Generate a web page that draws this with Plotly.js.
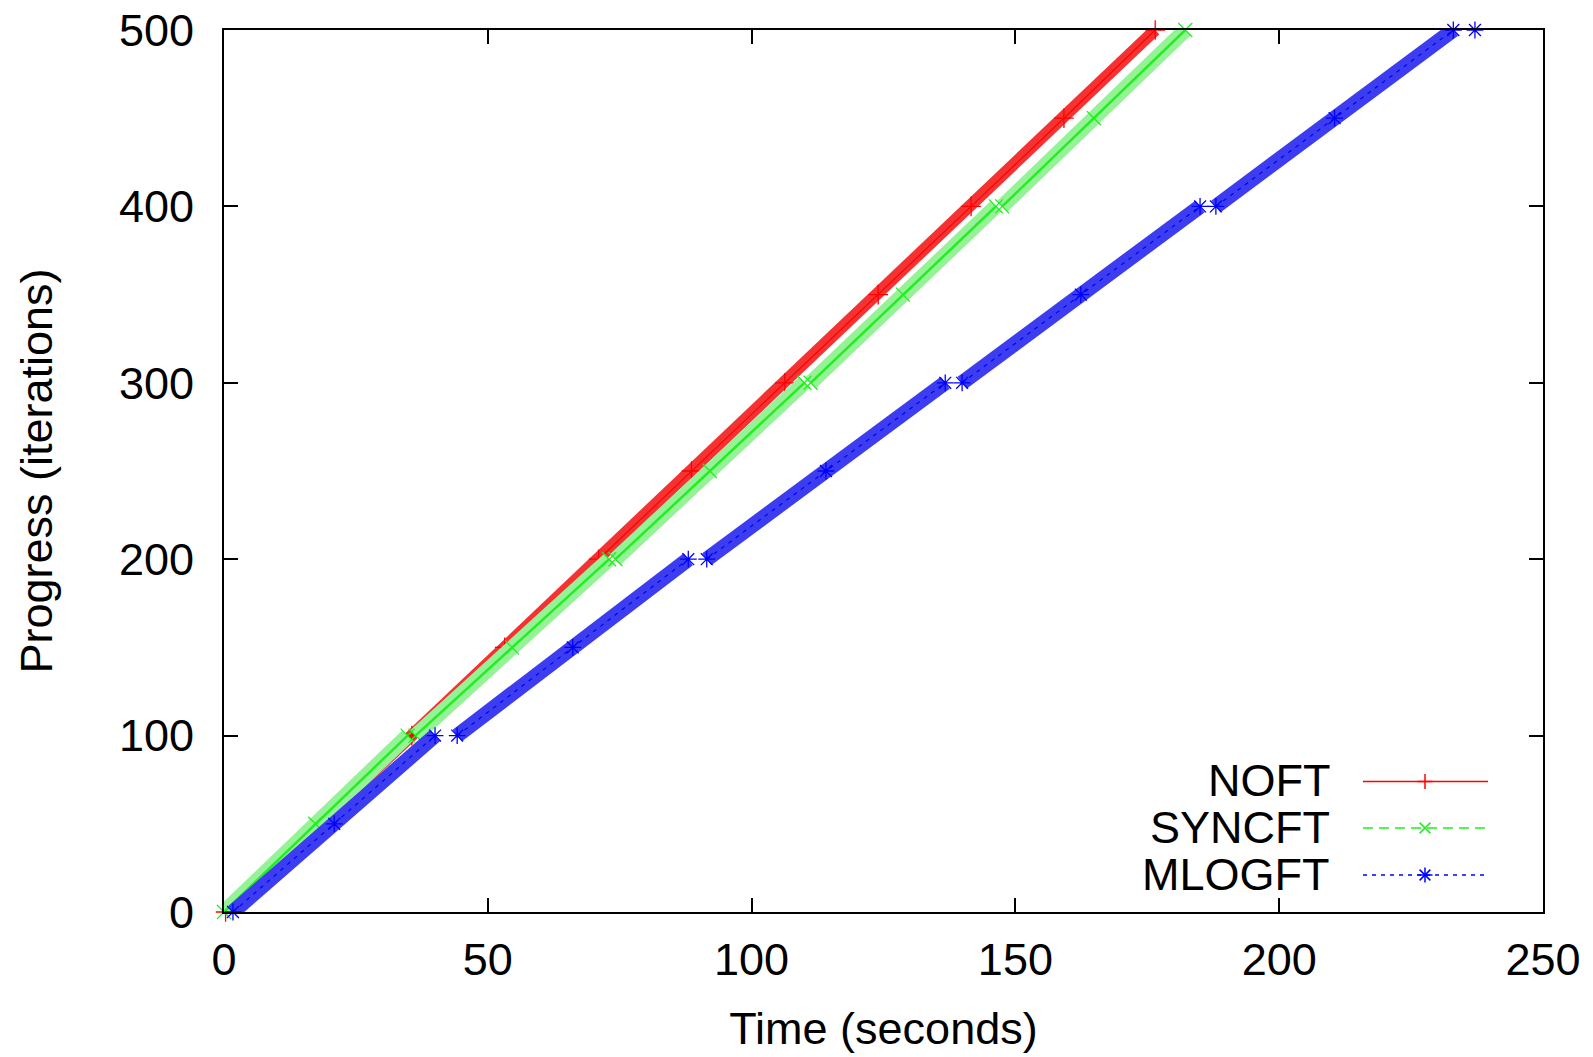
<!DOCTYPE html>
<html>
<head>
<meta charset="utf-8">
<script src="https://cdn.plot.ly/plotly-3.0.1.min.js"></script>
<style>html,body{margin:0;padding:0;background:#fff;}#chart{width:1593px;height:1057px;}</style>
</head>
<body>
<div id="chart"></div>
<script>
// ---- data (time in seconds, progress in iterations) ----
const seriesNames = ['NOFT', 'SYNCFT', 'MLOGFT'];

const noftTime = [0.3, 17.9, 35.6, 53.2, 71.0, 88.6, 106.3, 124.0, 141.6, 159.2, 176.5];
const noftIter = [0, 50, 100, 150, 200, 250, 300, 350, 400, 450, 500];

const syncTime = [0, 17.3, 34.8, null, 36.3, 54.6, 73.0, null, 74.2, 92.1, 110.0, null, 111.2, 128.7, 146.3, null, 147.5, 164.9, 182.2];
const syncIter = [0, 50, 100, null, 100, 150, 200, null, 200, 250, 300, null, 300, 350, 400, null, 400, 450, 500];

const mlogTime = [1.7, 20.9, 40.0, null, 44.2, 66.1, 88.0, null, 91.5, 114.1, 136.7, null, 139.9, 162.4, 185.0, null, 188.0, 210.5, 233.0, null, 237.1];
const mlogIter = [0, 50, 100, null, 100, 150, 200, null, 200, 250, 300, null, 300, 350, 400, null, 400, 450, 500, null, 500];

const xTicks = [0, 50, 100, 150, 200, 250];
const yTicks = [0, 100, 200, 300, 400, 500];

// ---- styles ----
const colors = ['#ff0000', '#22ee22', '#0000ff'];
const bandColors = ['rgb(245,50,50)', 'rgb(150,242,150)', 'rgb(60,60,240)'];
const bandWidths = [12, 15, 15];
const symbols = ['cross-thin-open', 'x-thin-open', 'asterisk-open'];
const dashes = ['solid', '10px,6px', '4px,5px'];

const xs = [noftTime, syncTime, mlogTime];
const ys = [noftIter, syncIter, mlogIter];

const traces = [];
for (let i = 0; i < 3; i++) {
  traces.push({
    x: xs[i], y: ys[i], type: 'scatter', mode: 'lines',
    line: {color: bandColors[i], width: bandWidths[i]},
    connectgaps: false, hoverinfo: 'skip', showlegend: false, cliponaxis: false
  });
  traces.push({
    x: xs[i], y: ys[i], type: 'scatter', mode: 'lines+markers', name: seriesNames[i],
    line: {color: colors[i], width: i === 1 ? 2.5 : 1.2, dash: i === 1 ? 'solid' : dashes[i]},
    marker: {symbol: symbols[i], size: 14, color: colors[i], line: {color: colors[i], width: 1.3}},
    connectgaps: false, showlegend: false, cliponaxis: false
  });
}

// ---- gnuplot-style legend (text left, sample right) ----
const W = 1593, H = 1057, L = 224, R = 50, T = 30, B = 145;
const pw = W - L - R, ph = H - T - B;
const px = v => (v - L) / pw;
const py = v => (H - B - v) / ph;
const legRows = [781.5, 828, 875];
const legTextRight = 1332, legLine0 = 1363, legLine1 = 1488, legMark = 1425, mh = 7.5;

const shapes = [], annotations = [];
for (let i = 0; i < 3; i++) {
  const yy = legRows[i];
  annotations.push({xref: 'paper', yref: 'paper', x: px(legTextRight), y: py(yy - 1), xanchor: 'right', yanchor: 'middle',
    text: seriesNames[i], showarrow: false, font: {size: 45, color: '#000'}});
  shapes.push({type: 'line', xref: 'paper', yref: 'paper', x0: px(legLine0), x1: px(legLine1), y0: py(yy), y1: py(yy),
    line: {color: colors[i], width: 1.5, dash: dashes[i]}});
  const segs = [];
  if (i === 0 || i === 2) { segs.push([[-mh, 0], [mh, 0]]); segs.push([[0, -mh], [0, mh]]); }
  if (i === 1 || i === 2) { const d = mh * 0.72; segs.push([[-d, -d], [d, d]]); segs.push([[-d, d], [d, -d]]); }
  segs.forEach(s => shapes.push({type: 'line', xref: 'paper', yref: 'paper',
    x0: px(legMark + s[0][0]), y0: py(yy + s[0][1]), x1: px(legMark + s[1][0]), y1: py(yy + s[1][1]),
    line: {color: colors[i], width: 1.5}}));
}

const axisCommon = {
  ticks: 'inside', ticklen: 14, tickwidth: 2, tickcolor: '#000',
  showline: true, linewidth: 2, linecolor: '#000', mirror: 'ticks',
  showgrid: false, zeroline: false, tickfont: {size: 45, color: '#000'}
};

const layout = {
  width: W, height: H,
  margin: {l: L, r: R, t: T, b: B, pad: 0},
  paper_bgcolor: '#fff', plot_bgcolor: '#fff',
  font: {family: '"Liberation Sans", Arial, Helvetica, sans-serif', size: 44, color: '#000'},
  showlegend: false,
  xaxis: Object.assign({}, axisCommon, {
    range: [0, 250], tickmode: 'array', tickvals: xTicks, ticktext: xTicks.map(String),
    ticklabelstandoff: 7,
    title: {text: 'Time (seconds)', font: {size: 45, color: '#000'}, standoff: 28}
  }),
  yaxis: Object.assign({}, axisCommon, {
    range: [0, 500], tickmode: 'array', tickvals: yTicks, ticktext: yTicks.map(String),
    ticklabelstandoff: 19,
    title: {text: 'Progress (iterations)', font: {size: 45, color: '#000'}, standoff: 52}
  }),
  shapes: shapes, annotations: annotations
};

Plotly.newPlot('chart', traces, layout, {displayModeBar: false, staticPlot: true});
</script>
</body>
</html>
